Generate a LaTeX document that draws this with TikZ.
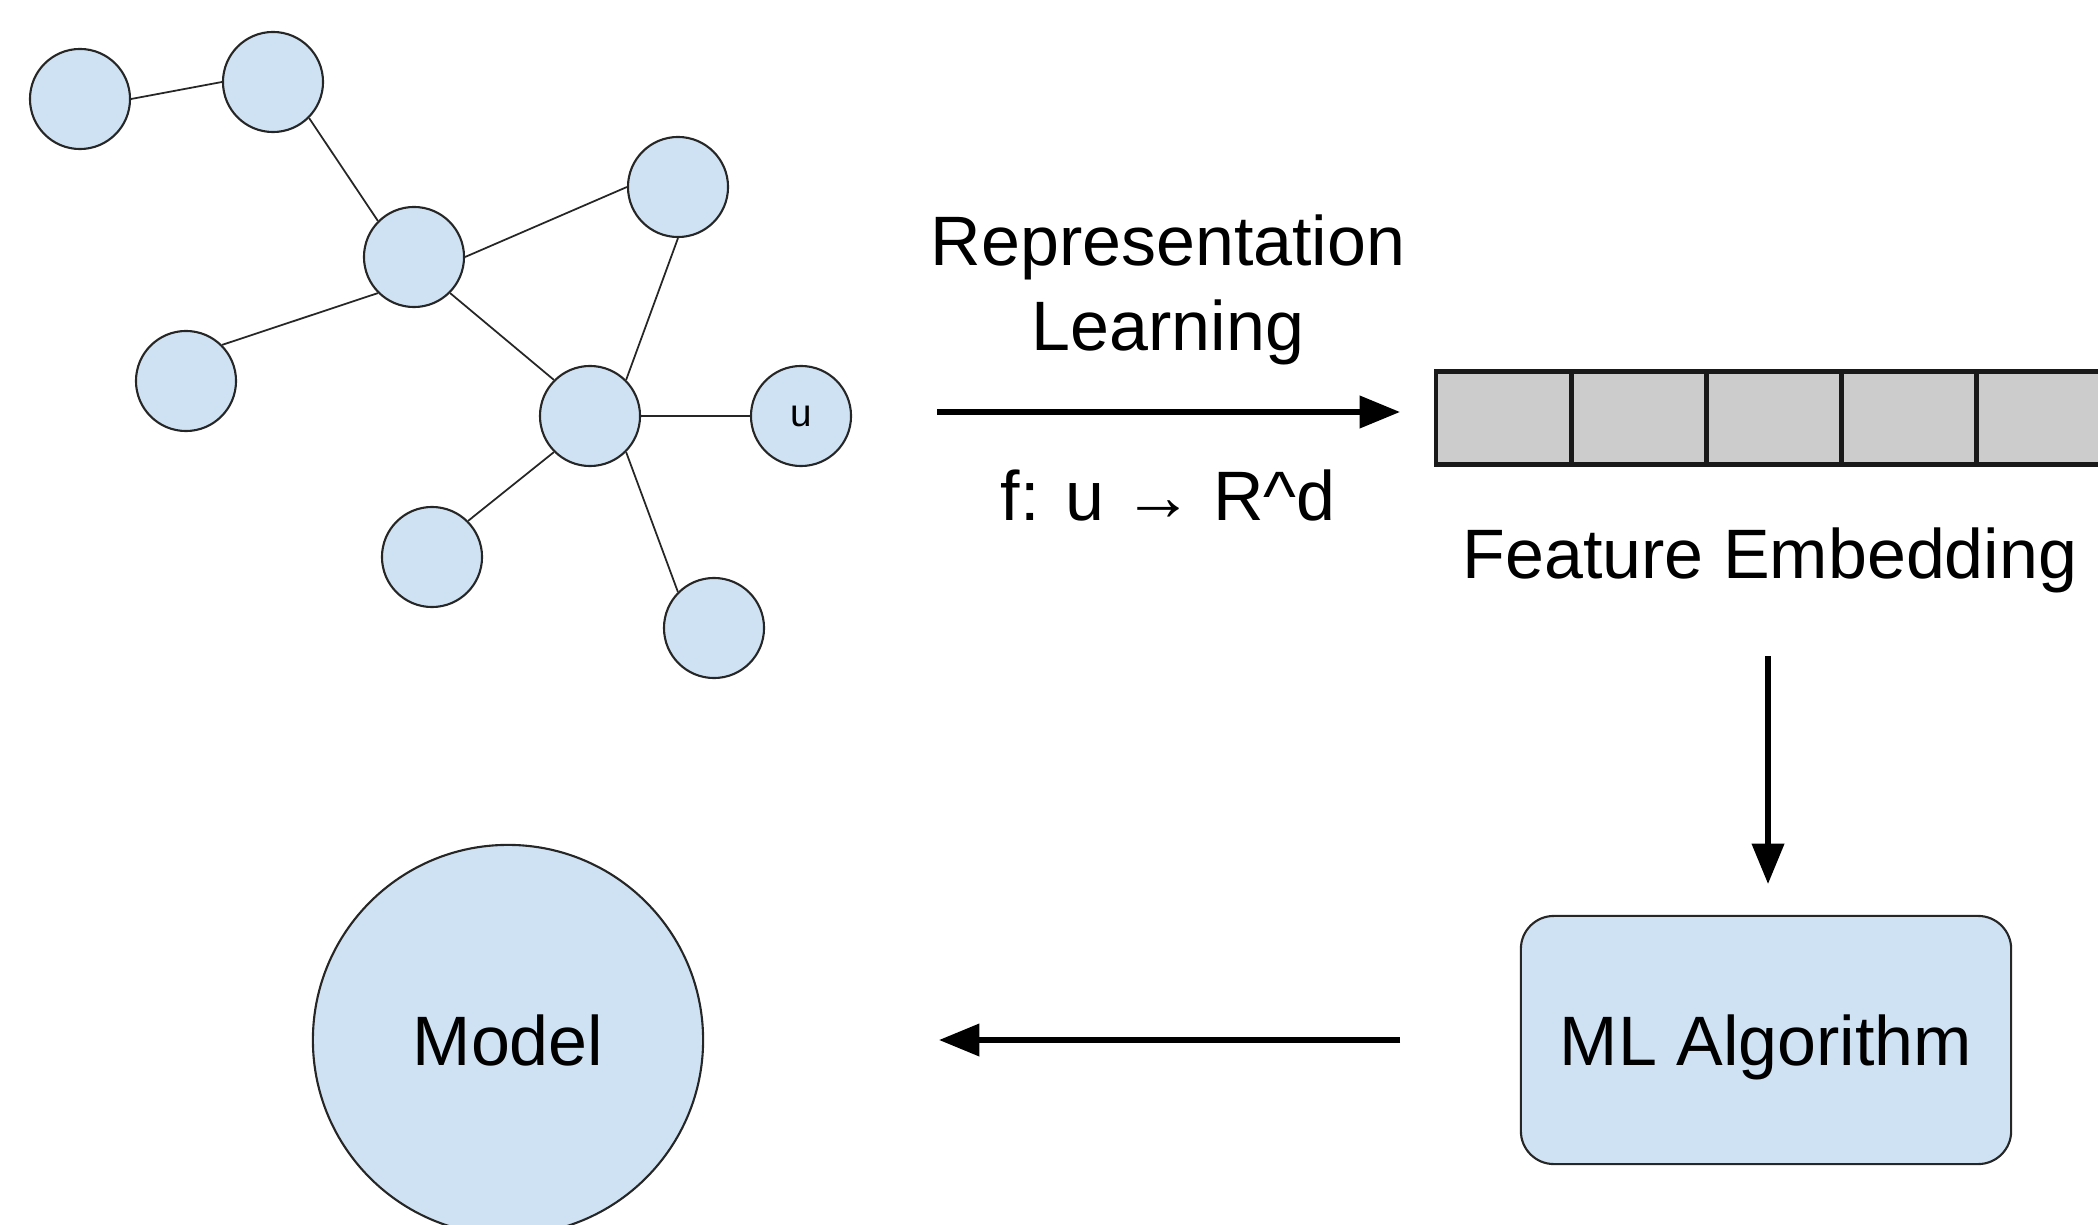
\documentclass[tikz,border=0pt]{standalone}
\usepackage{fontspec}
\setmainfont{Liberation Sans}
\usetikzlibrary{arrows.meta}
\definecolor{nodeblue}{HTML}{CFE2F3}
\definecolor{cellgray}{HTML}{CCCCCC}
\tikzset{
  gnode/.style={circle, draw=black!85, line width=0.6pt, fill=nodeblue, minimum size=1cm, inner sep=0pt},
  gedge/.style={draw=black!85, line width=0.5pt},
  bigarrow/.style={line width=1.5pt, -{Triangle[length=11.5pt,width=9pt]}},
  label20/.style={font=\fontsize{19.9}{24.2}\selectfont, align=center, inner sep=0pt},
  cell/.style={draw=black!90, line width=0.7pt, fill=cellgray, minimum width=1.326cm, minimum height=0.91cm, inner sep=0pt}
}
\begin{document}
\begin{tikzpicture}[x=0.01cm, y=-0.01cm]
\useasboundingbox (0,0) rectangle (2098,1225);
\begin{scope}
\clip (0,0) rectangle (2098,1225);
% graph
\node[gnode] (n1) at (80,99) {};
\node[gnode] (n2) at (273,82) {};
\node[gnode] (n3) at (414,257) {};
\node[gnode] (n4) at (678,187) {};
\node[gnode] (n5) at (186,381) {};
\node[gnode] (n6) at (590,416) {};
\node[gnode, font=\fontsize{11}{13}\selectfont] (u) at (801,416) {u};
\node[gnode] (n7) at (432,557) {};
\node[gnode] (n8) at (714,628) {};
\draw[gedge] (n1.east) -- (n2.west);
\draw[gedge] (n2.south east) -- (n3.north west);
\draw[gedge] (n3.east) -- (n4.west);
\draw[gedge] (n3.south west) -- (n5.north east);
\draw[gedge] (n3.south east) -- (n6.north west);
\draw[gedge] (n4.south) -- (n6.north east);
\draw[gedge] (n6.east) -- (u.west);
\draw[gedge] (n6.south west) -- (n7.north east);
\draw[gedge] (n6.south east) -- (n8.north west);

% embedding cells
\node[cell, anchor=west] (c1) at (1436,418) {};
\node[cell, anchor=west] (c2) at (c1.east) {};
\node[cell, anchor=west] (c3) at (c2.east) {};
\node[cell, anchor=west] (c4) at (c3.east) {};
\node[cell, anchor=west] (c5) at (c4.east) {};
\draw[line width=1.2pt, black!90] (c5.north east) -- (c1.north west) -- (c1.south west) -- (c5.south east);
\coordinate (embL) at (1400,412);
\coordinate (rlS) at (937,412);
\draw[bigarrow] (rlS) -- (embL);
\node[label20] (rl) at (1168,290) {Representation\\Learning};
\node[label20] (fu) at (1168,495) {f: u → R\^{}d};
\node[label20] (fe) at (1770,560) {Feature Embedding};

% ML algorithm
\node[draw=black!85, line width=0.6pt, fill=nodeblue, rounded corners=0.33cm,
      minimum width=4.9cm, minimum height=2.48cm, label20, text height=0.5cm, text depth=0cm] (ml) at (1766,1040) {ML Algorithm};
\coordinate (dS) at (1768,656);
\coordinate (dE) at (1768,884);
\draw[bigarrow] (dS) -- (dE);

% model
\node[circle, draw=black!85, line width=0.6pt, fill=nodeblue, minimum size=3.9cm, inner sep=0pt, label20] (model) at (508,1040) {Model};
\coordinate (lS) at (1400,1040);
\coordinate (lE) at (939,1040);
\draw[bigarrow] (lS) -- (lE);
\end{scope}
\end{tikzpicture}
\end{document}
